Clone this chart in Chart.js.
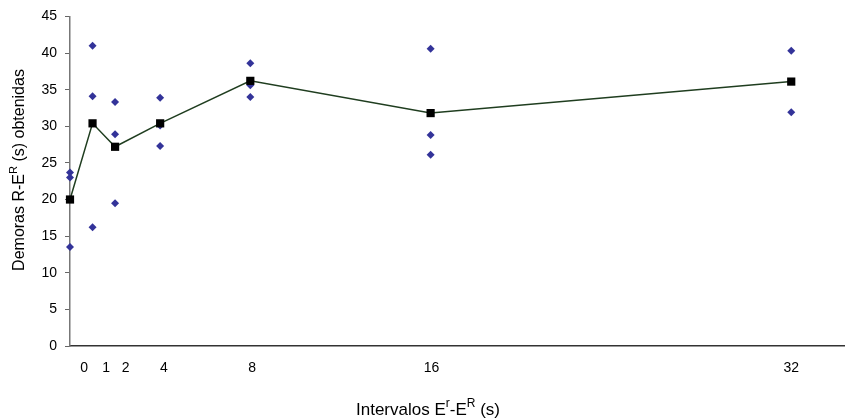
<!DOCTYPE html>
<html>
<head>
<meta charset="utf-8">
<script src="https://cdn.jsdelivr.net/npm/chart.js@4"></script>
<style>
  body { margin: 0; background: #fff; }
  #wrap { width: 850px; height: 420px; }
</style>
</head>
<body>
<div id="wrap"><canvas id="chart"></canvas></div>
<script>
// intervalos E'-E^R (s)
const intervalos = [0, 1, 2, 4, 8, 16, 32];
// demoras obtenidas por intervalo (rombos)
const demoras = [
    [23.7, 23.0, 13.5],
    [41.0, 34.1, 16.2],
    [33.3, 28.9, 19.5],
    [33.9, 30.1, 27.3],
    [38.6, 35.6, 34.0],
    [40.6, 28.8, 26.1],
    [40.3, 31.9]
];
// medias (cuadrados)
const medias = [20.0, 30.4, 27.2, 30.4, 36.2, 31.8, 36.1];
// etiquetas del eje x y donde van escritas
const tickLabels = ['0', '1', '2', '4', '8', '16', '32'];
const tickPos = [0.63, 1.6, 2.47, 4.17, 8.08, 16.04, 32.0];

const FONT = '"Liberation Sans", Arial, sans-serif';

// dibuja texto con superindices
function drawRich(ctx, parts, cx, cy, size) {
    const supSize = Math.round(size * 0.7);
    let total = 0;
    parts.forEach(p => {
        ctx.font = (p.sup ? supSize : size) + 'px ' + FONT;
        p.w = ctx.measureText(p.t).width;
        total += p.w;
    });
    let x = cx - total / 2;
    parts.forEach(p => {
        ctx.font = (p.sup ? supSize : size) + 'px ' + FONT;
        ctx.fillText(p.t, x, p.sup ? cy - size * 0.38 : cy);
        x += p.w;
    });
}

const titlesPlugin = {
    id: 'titles',
    afterDraw(chart) {
        const ctx = chart.ctx;
        ctx.save();
        ctx.fillStyle = '#000';
        ctx.textBaseline = 'middle';
        ctx.textAlign = 'left';
        drawRich(ctx, [
            { t: 'Intervalos E' }, { t: 'r', sup: true },
            { t: '-E' }, { t: 'R', sup: true }, { t: ' (s)' }
        ], 428, 410, 17);
        ctx.translate(20, 170);
        ctx.rotate(-Math.PI / 2);
        drawRich(ctx, [
            { t: 'Demoras R-E' }, { t: 'R', sup: true }, { t: ' (s) obtenidas' }
        ], 0, 0, 16);
        ctx.restore();
    }
};

const puntos = [];
intervalos.forEach((x, i) => {
    demoras[i].forEach(y => puntos.push({ x, y }));
});

new Chart(document.getElementById('chart'), {
    type: 'scatter',
    data: {
        datasets: [{
            type: 'line',
            data: intervalos.map((x, i) => ({ x, y: medias[i] })),
            borderColor: '#1f3d1f',
            borderWidth: 1.5,
            pointStyle: 'rect',
            pointRadius: 5.8,
            pointBackgroundColor: '#000',
            pointBorderColor: '#000',
            pointBorderWidth: 0,
            tension: 0,
            clip: false
        }, {
            data: puntos,
            pointStyle: 'rectRot',
            pointRadius: 4,
            pointBackgroundColor: '#333399',
            pointBorderColor: '#333399',
            pointBorderWidth: 0,
            clip: false
        }]
    },
    options: {
        responsive: true,
        maintainAspectRatio: false,
        animation: false,
        layout: { padding: { top: 16, right: 0, left: 0, bottom: 0 } },
        plugins: { legend: { display: false }, tooltip: { enabled: false } },
        scales: {
            x: {
                type: 'linear',
                min: 0,
                max: 34.35,
                afterFit: s => { s.height = 74; },
                afterBuildTicks: s => { s.ticks = tickPos.map(v => ({ value: v })); },
                grid: { display: false },
                border: { display: true, color: '#333', width: 1.5 },
                ticks: {
                    autoSkip: false,
                    maxRotation: 0,
                    padding: 6,
                    color: '#000',
                    font: { family: FONT, size: 14 },
                    callback: (v, i) => tickLabels[i]
                }
            },
            y: {
                min: 0,
                max: 45,
                afterFit: s => { s.width = 70; },
                grid: { drawOnChartArea: false, tickLength: 5, color: '#666' },
                border: { display: true, color: '#777', width: 1.5 },
                ticks: {
                    stepSize: 5,
                    padding: 8,
                    color: '#000',
                    font: { family: FONT, size: 14 }
                }
            }
        }
    },
    plugins: [titlesPlugin]
});
</script>
</body>
</html>
